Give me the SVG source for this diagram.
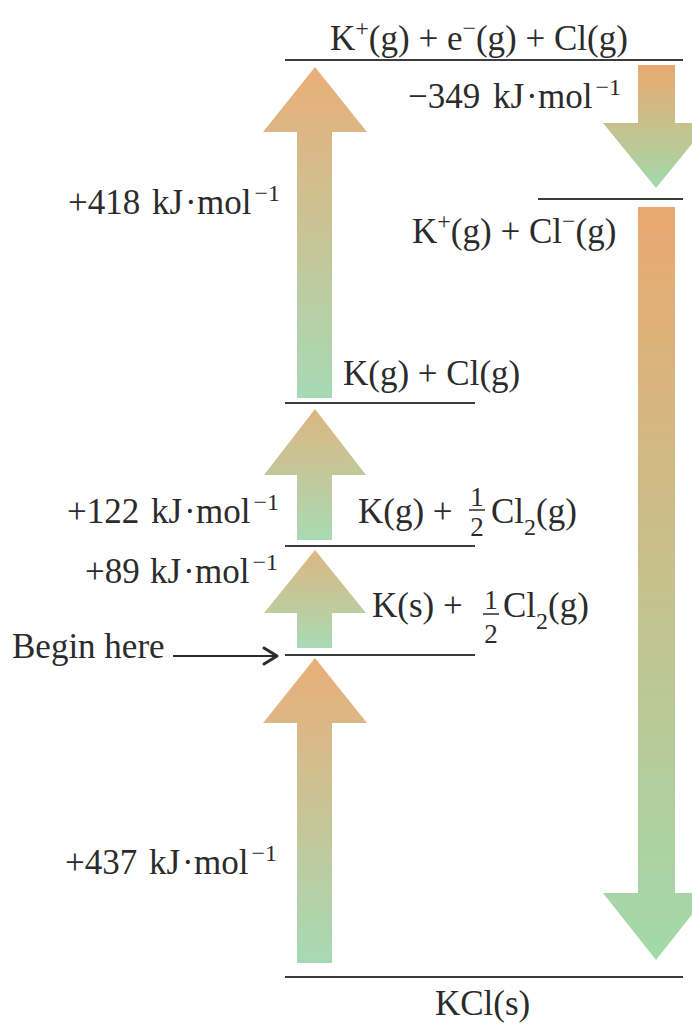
<svg xmlns="http://www.w3.org/2000/svg" width="692" height="1026" viewBox="0 0 692 1026">
<style>
.t{font-family:"Liberation Serif","Times New Roman",serif;font-size:35px;fill:#2b2b2b}
.s{font-size:24px}
.f{font-size:27px}
.lvl{stroke:#3c3c3c;stroke-width:2;fill:none}
.fb{stroke:#2b2b2b;stroke-width:1.5}
</style>
<defs>
<linearGradient id="gUp" x1="0" y1="0" x2="0" y2="1">
<stop offset="0" stop-color="#eaae78"/>
<stop offset="1" stop-color="#a6dab4"/>
</linearGradient>
<linearGradient id="gUpS" x1="0" y1="0" x2="0" y2="1">
<stop offset="0" stop-color="#dcb681"/>
<stop offset="1" stop-color="#a9dab3"/>
</linearGradient>
<linearGradient id="gDown" x1="0" y1="0" x2="0" y2="1">
<stop offset="0" stop-color="#e9a970"/>
<stop offset="1" stop-color="#a2d9aa"/>
</linearGradient>
</defs>
<rect width="692" height="1026" fill="#ffffff"/>

<g id="level-top">
<line class="lvl" x1="285" y1="60" x2="683" y2="60"/>
<text class="t" x="330" y="50">K<tspan class="s" dy="-14">+</tspan><tspan dy="14">(g) + e</tspan><tspan class="s" dy="-14">−</tspan><tspan dy="14">(g) + Cl(g)</tspan></text>
</g>
<g id="level-ions">
<line class="lvl" x1="538" y1="199" x2="683" y2="199"/>
<text class="t" x="412" y="243">K<tspan class="s" dy="-14">+</tspan><tspan dy="14">(g) + Cl</tspan><tspan class="s" dy="-14">−</tspan><tspan dy="14">(g)</tspan></text>
</g>
<g id="level-atoms">
<line class="lvl" x1="285" y1="403" x2="475" y2="403"/>
<text class="t" x="343" y="385">K(g) + Cl(g)</text>
</g>
<g id="level-kg">
<line class="lvl" x1="285" y1="546" x2="475" y2="546"/>
<text class="t" x="358" y="523">K(g) +</text>
<text class="t f" x="477" y="506" text-anchor="middle">1</text>
<line class="fb" x1="469" y1="510" x2="485" y2="510"/>
<text class="t f" x="477" y="536" text-anchor="middle">2</text>
<text class="t" x="491" y="523">Cl<tspan class="s" dy="12">2</tspan><tspan dy="-12">(g)</tspan></text>
</g>
<g id="level-ks">
<line class="lvl" x1="285" y1="655" x2="475" y2="655"/>
<text class="t" x="372" y="617">K(s) +</text>
<text class="t f" x="491" y="609" text-anchor="middle">1</text>
<line class="fb" x1="483" y1="614" x2="499" y2="614"/>
<text class="t f" x="491" y="643" text-anchor="middle">2</text>
<text class="t" x="503" y="617">Cl<tspan class="s" dy="12">2</tspan><tspan dy="-12">(g)</tspan></text>
</g>
<g id="level-kcl">
<line class="lvl" x1="285" y1="977" x2="683" y2="977"/>
<text class="t" x="435" y="1015">KCl(s)</text>
</g>
<g id="begin">
<text class="t" x="12" y="658">Begin here</text>
</g>

<g id="connectors">
<polygon fill="url(#gUp)" points="315,67 367,132 332,132 332,398 297,398 297,132 263,132"/>
<polygon fill="url(#gUpS)" points="315,409 366,475 332,475 332,540 297,540 297,475 264,475"/>
<polygon fill="url(#gUpS)" points="315,550 366,613 332,613 332,648 297,648 297,613 264,613"/>
<polygon fill="url(#gUp)" points="315,658 367,723 332,723 332,963 297,963 297,723 263,723"/>
<polygon fill="url(#gDown)" points="638,65 675,65 675,123 709,123 656,188 603,123 638,123"/>
<polygon fill="url(#gDown)" points="638,207 675,207 675,893 709,893 656,960 603,893 638,893"/>
<line x1="173" y1="656" x2="275" y2="656" stroke="#2b2b2b" stroke-width="2"/>
<polyline points="264,648 277,656 264,664" fill="none" stroke="#2b2b2b" stroke-width="3" stroke-linecap="round" stroke-linejoin="round"/>

<text class="t" y="214"><tspan x="68">+418</tspan><tspan x="152">kJ</tspan><tspan x="185">·</tspan><tspan x="197">mol</tspan><tspan class="s" dx="3" dy="-13">−1</tspan></text>
<text class="t" y="108"><tspan x="408">−349</tspan><tspan x="493">kJ</tspan><tspan x="526">·</tspan><tspan x="538">mol</tspan><tspan class="s" dx="3" dy="-13">−1</tspan></text>
<text class="t" y="523"><tspan x="67">+122</tspan><tspan x="151">kJ</tspan><tspan x="184">·</tspan><tspan x="196">mol</tspan><tspan class="s" dx="3" dy="-13">−1</tspan></text>
<text class="t" y="583"><tspan x="85">+89</tspan><tspan x="150">kJ</tspan><tspan x="183">·</tspan><tspan x="195">mol</tspan><tspan class="s" dx="3" dy="-13">−1</tspan></text>
<text class="t" y="874"><tspan x="65">+437</tspan><tspan x="149">kJ</tspan><tspan x="182">·</tspan><tspan x="194">mol</tspan><tspan class="s" dx="3" dy="-13">−1</tspan></text>
</g>
</svg>
